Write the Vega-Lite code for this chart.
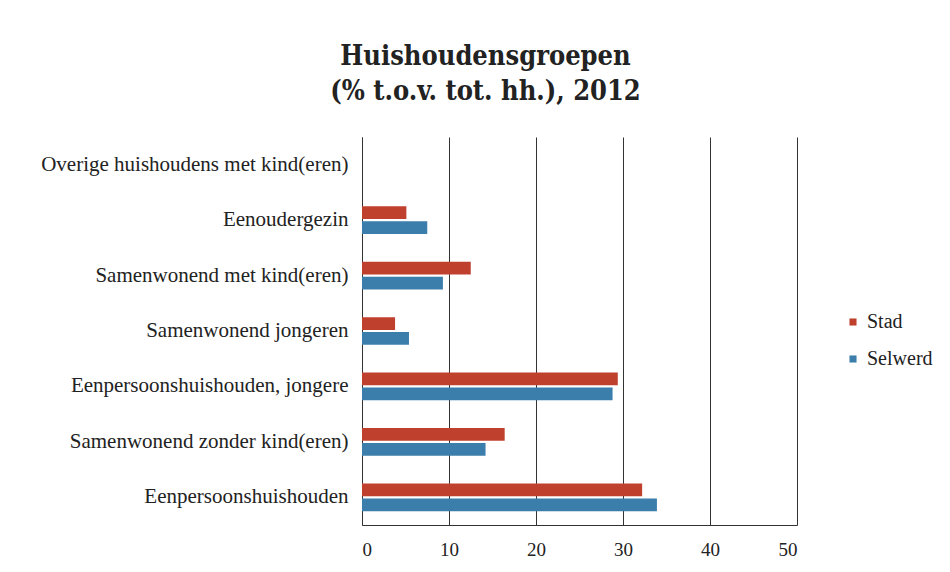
{
  "$schema": "https://vega.github.io/schema/vega-lite/v6.json",
  "autosize": "none",
  "width": 435,
  "height": 388,
  "padding": {"left": 362, "top": 137, "right": 153, "bottom": 47},
  "background": "white",
  "title": {
    "text": ["Huishoudensgroepen", "(% t.o.v. tot. hh.), 2012"],
    "font": "DejaVu Serif Condensed",
    "fontSize": 27,
    "fontWeight": "bold",
    "color": "#222222",
    "anchor": "middle",
    "dx": -94,
    "offset": 31,
    "lineHeight": 35
  },
  "data": {
    "values": [
      {"category": "Overige huishoudens met kind(eren)", "series": "Stad", "value": null},
      {"category": "Overige huishoudens met kind(eren)", "series": "Selwerd", "value": null},
      {"category": "Eenoudergezin", "series": "Stad", "value": 5.1},
      {"category": "Eenoudergezin", "series": "Selwerd", "value": 7.5},
      {"category": "Samenwonend met kind(eren)", "series": "Stad", "value": 12.5},
      {"category": "Samenwonend met kind(eren)", "series": "Selwerd", "value": 9.3},
      {"category": "Samenwonend jongeren", "series": "Stad", "value": 3.8},
      {"category": "Samenwonend jongeren", "series": "Selwerd", "value": 5.4},
      {"category": "Eenpersoonshuishouden, jongere", "series": "Stad", "value": 29.4},
      {"category": "Eenpersoonshuishouden, jongere", "series": "Selwerd", "value": 28.8},
      {"category": "Samenwonend zonder kind(eren)", "series": "Stad", "value": 16.4},
      {"category": "Samenwonend zonder kind(eren)", "series": "Selwerd", "value": 14.2},
      {"category": "Eenpersoonshuishouden", "series": "Stad", "value": 32.2},
      {"category": "Eenpersoonshuishouden", "series": "Selwerd", "value": 33.9}
    ]
  },
  "mark": {"type": "bar"},
  "encoding": {
    "y": {
      "field": "category",
      "type": "nominal",
      "sort": ["Overige huishoudens met kind(eren)", "Eenoudergezin", "Samenwonend met kind(eren)", "Samenwonend jongeren", "Eenpersoonshuishouden, jongere", "Samenwonend zonder kind(eren)", "Eenpersoonshuishouden"],
      "scale": {"paddingInner": 0.5, "paddingOuter": 0.25},
      "axis": {
        "title": null,
        "labelFont": "Liberation Serif",
        "labelFontSize": 21,
        "labelColor": "#222222",
        "labelPadding": 14,
        "ticks": false,
        "domainColor": "#333333",
        "labelLimit": 400
      }
    },
    "yOffset": {"field": "series", "type": "nominal", "sort": ["Stad", "Selwerd"], "scale": {"paddingInner": 0.15}},
    "x": {
      "field": "value",
      "type": "quantitative",
      "scale": {"domain": [0, 50]},
      "axis": {
        "title": null,
        "values": [0, 10, 20, 30, 40, 50],
        "grid": true,
        "gridColor": "#333333",
        "gridOpacity": 1,
        "ticks": false,
        "domainColor": "#333333",
        "labelFont": "Liberation Serif",
        "labelFontSize": 19,
        "labelColor": "#222222",
        "labelPadding": 15
      }
    },
    "color": {
      "field": "series",
      "type": "nominal",
      "sort": ["Stad", "Selwerd"],
      "scale": {"domain": ["Stad", "Selwerd"], "range": ["#c0402e", "#3b7eab"]},
      "legend": {
        "title": null,
        "orient": "none",
        "legendX": 481,
        "legendY": 175,
        "symbolType": "square",
        "symbolSize": 50,
        "labelFont": "Liberation Serif",
        "labelFontSize": 20,
        "labelColor": "#222222",
        "rowPadding": 17,
        "labelOffset": 4
      }
    }
  },
  "config": {"view": {"stroke": null}}
}
